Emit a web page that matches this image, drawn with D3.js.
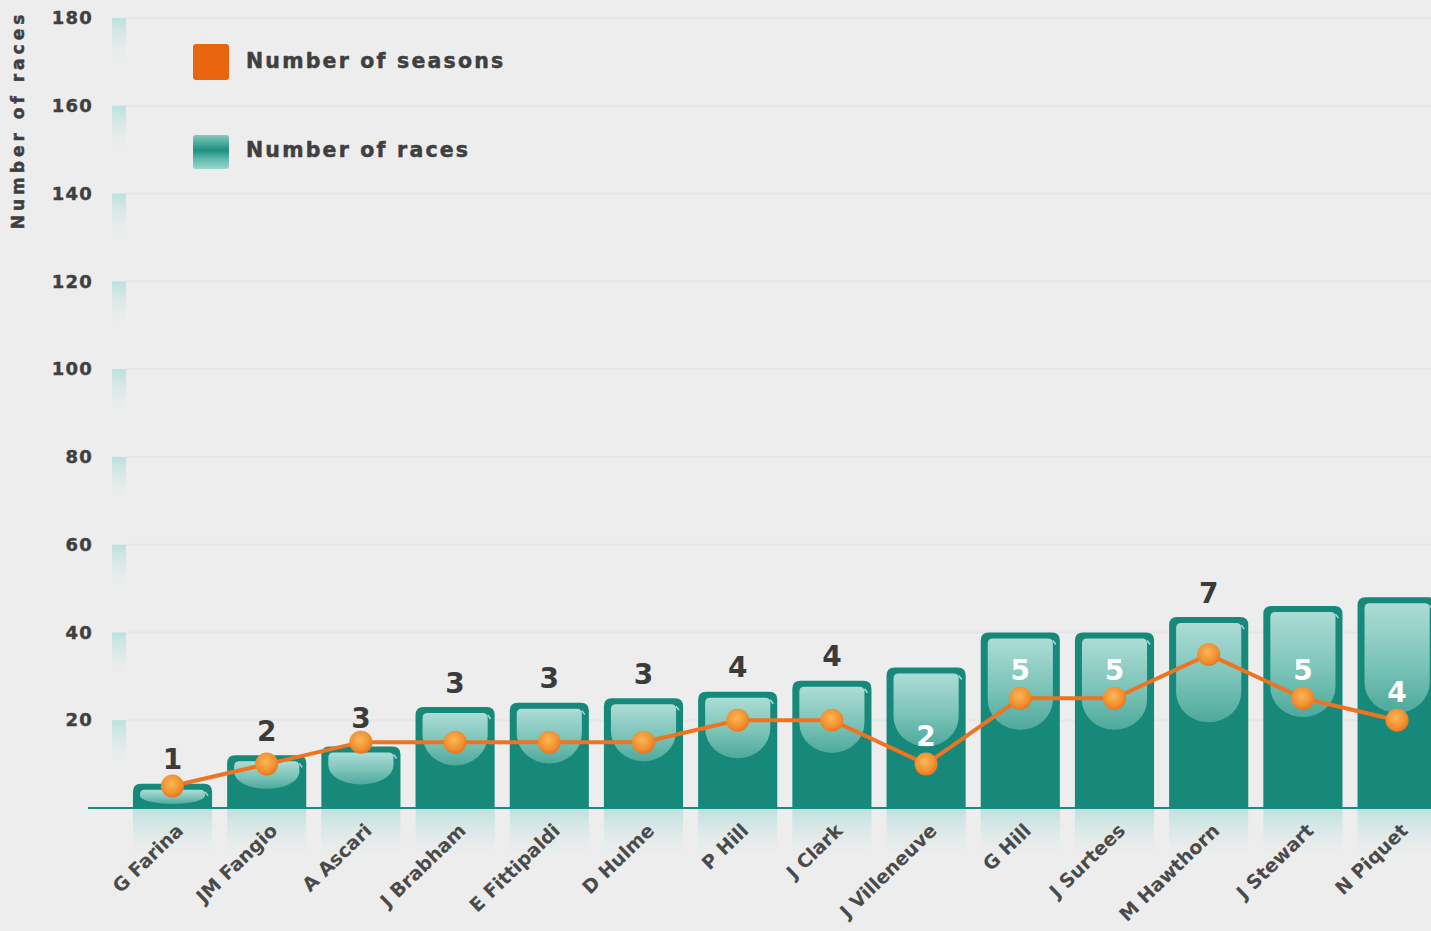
<!DOCTYPE html>
<html>
<head>
<meta charset="utf-8">
<script src="https://cdn.jsdelivr.net/npm/d3@7"></script>
<style>
  html, body { margin: 0; padding: 0; background: #ededed; }
  svg { display: block; }
  text { font-family: "DejaVu Sans", sans-serif; font-weight: bold; }
</style>
</head>
<body>
<div id="chart"></div>
<script>
const drivers = ["G Farina", "JM Fangio", "A Ascari", "J Brabham", "E Fittipaldi", "D Hulme", "P Hill",
  "J Clark", "J Villeneuve", "G Hill", "J Surtees", "M Hawthorn", "J Stewart", "N Piquet"];
const races = [5.5, 12, 14, 23, 24, 25, 26.5, 29, 32, 40, 40, 43.5, 46, 48];
const seasons = [1, 2, 3, 3, 3, 3, 4, 4, 2, 5, 5, 7, 5, 4];
const yTicks = [20, 40, 60, 80, 100, 120, 140, 160, 180];

const width = 1431, height = 931;
const baseY = 808, topY = 18;

const svg = d3.select("#chart").append("svg")
    .attr("width", width)
    .attr("height", height);

svg.append("rect").attr("width", width).attr("height", height).attr("fill", "#ededed");

const defs = svg.append("defs");

const cupGrad = defs.append("linearGradient").attr("id", "cup").attr("x1", 0).attr("y1", 0).attr("x2", 0).attr("y2", 1);
cupGrad.append("stop").attr("offset", "0%").attr("stop-color", "#acdcd5");
cupGrad.append("stop").attr("offset", "55%").attr("stop-color", "#7cc4b9");
cupGrad.append("stop").attr("offset", "100%").attr("stop-color", "#4ea99c");

const reflGrad = defs.append("linearGradient").attr("id", "refl").attr("x1", 0).attr("y1", 0).attr("x2", 0).attr("y2", 1);
reflGrad.append("stop").attr("offset", "0%").attr("stop-color", "#b5e0dc").attr("stop-opacity", 0.9);
reflGrad.append("stop").attr("offset", "100%").attr("stop-color", "#ededed").attr("stop-opacity", 0);

const stripGrad = defs.append("linearGradient").attr("id", "strip").attr("x1", 0).attr("y1", 0).attr("x2", 0).attr("y2", 1);
stripGrad.append("stop").attr("offset", "0%").attr("stop-color", "#b9e2de");
stripGrad.append("stop").attr("offset", "100%").attr("stop-color", "#ededed").attr("stop-opacity", 0);

const dotGrad = defs.append("radialGradient").attr("id", "dot").attr("cx", "45%").attr("cy", "40%").attr("r", "60%");
dotGrad.append("stop").attr("offset", "0%").attr("stop-color", "#fbb758");
dotGrad.append("stop").attr("offset", "70%").attr("stop-color", "#f2902e");
dotGrad.append("stop").attr("offset", "100%").attr("stop-color", "#ea7420");

const legGrad = defs.append("linearGradient").attr("id", "legTeal").attr("x1", 0).attr("y1", 0).attr("x2", 0).attr("y2", 1);
legGrad.append("stop").attr("offset", "0%").attr("stop-color", "#7fcabd");
legGrad.append("stop").attr("offset", "45%").attr("stop-color", "#1f907f");
legGrad.append("stop").attr("offset", "70%").attr("stop-color", "#5fb7aa");
legGrad.append("stop").attr("offset", "100%").attr("stop-color", "#9ad6cc");

const x = d3.scaleBand()
    .domain(drivers)
    .range([125.4, 125.4 + 14 * 94.2])
    .paddingInner(0.16)
    .paddingOuter(0.08);

const y = d3.scaleLinear().domain([0, 180]).range([baseY, topY]);
const ySeasons = d3.scaleLinear().domain([0, 36]).range([baseY, topY]);

// grid lines and axis strips
svg.append("g").selectAll("line")
    .data(yTicks)
    .join("line")
    .attr("x1", 126).attr("x2", width)
    .attr("y1", d => y(d)).attr("y2", d => y(d))
    .attr("stroke", "#e3e7e6").attr("stroke-width", 2);

svg.append("g").selectAll("rect")
    .data(yTicks)
    .join("rect")
    .attr("x", 112).attr("width", 14)
    .attr("y", d => y(d))
    .attr("height", 48)
    .attr("fill", "url(#strip)");

// y axis tick labels
const yAxis = d3.axisLeft(y).tickValues(yTicks).tickSize(0).tickPadding(0);
const gy = svg.append("g").attr("transform", "translate(93,0)").call(yAxis);
gy.select(".domain").remove();
gy.selectAll("text")
    .attr("font-family", "DejaVu Sans")
    .attr("font-weight", "bold")
    .attr("font-size", 18)
    .attr("letter-spacing", 1.2)
    .attr("fill", "#3f3f3f")
    .attr("stroke", "#3f3f3f").attr("stroke-width", 0.4);

svg.append("text")
    .attr("transform", "translate(24,120) rotate(-90)")
    .attr("text-anchor", "middle")
    .attr("font-size", 17)
    .attr("letter-spacing", 4)
    .attr("fill", "#3f3f3f")
    .attr("stroke", "#3f3f3f").attr("stroke-width", 0.5)
    .text("Number of races");

// reflections under bars
svg.append("g").selectAll("rect")
    .data(drivers)
    .join("rect")
    .attr("x", d => x(d))
    .attr("y", baseY)
    .attr("width", x.bandwidth())
    .attr("height", 55)
    .attr("fill", "url(#refl)");

// bars
const bw = x.bandwidth();
const bars = svg.append("g").selectAll("g")
    .data(drivers.map((d, i) => ({ name: d, races: races[i], seasons: seasons[i] })))
    .join("g");

bars.append("path")
    .attr("d", d => {
        const x0 = x(d.name), top = y(d.races), r = 8;
        return `M${x0},${baseY} L${x0},${top + r} Q${x0},${top} ${x0 + r},${top} L${x0 + bw - r},${top} Q${x0 + bw},${top} ${x0 + bw},${top + r} L${x0 + bw},${baseY} Z`;
    })
    .attr("fill", "#17897b");

bars.append("path")
    .attr("d", d => {
        const x0 = x(d.name) + 7, x1 = x(d.name) + bw - 7;
        const top = y(d.races) + 6;
        const h = baseY - y(d.races);
        const depth = Math.max(h * 0.52, Math.min(h - 10, 26));
        const ry = Math.min(depth * 0.6, 30);
        const bot = top + depth;
        const rx = (x1 - x0) / 2;
        return `M${x0},${top + 5} Q${x0},${top} ${x0 + 5},${top} L${x1 - 5},${top} Q${x1},${top} ${x1},${top + 5} L${x1},${bot - ry} A${rx},${ry} 0 0 1 ${x0},${bot - ry} Z`;
    })
    .attr("fill", "url(#cup)");

// small highlight notch on the right of the rim
bars.append("path")
    .attr("d", d => {
        const xr = x(d.name) + bw - 4, top = y(d.races);
        return `M${xr - 3},${top + 8} L${xr},${top + 12}`;
    })
    .attr("stroke", "#cfeeea").attr("stroke-width", 1.5).attr("opacity", 0.8);

// baseline
svg.append("line")
    .attr("x1", 88).attr("x2", width)
    .attr("y1", baseY).attr("y2", baseY)
    .attr("stroke", "#1d8a7f").attr("stroke-width", 2);

// seasons line
const cx = d => x(d.name) + bw / 2;
const line = d3.line().x(cx).y(d => ySeasons(d.seasons));
svg.append("path")
    .datum(bars.data())
    .attr("d", line)
    .attr("fill", "none")
    .attr("stroke", "#ee7421")
    .attr("stroke-width", 4);

svg.append("g").selectAll("circle")
    .data(bars.data())
    .join("circle")
    .attr("cx", cx)
    .attr("cy", d => ySeasons(d.seasons))
    .attr("r", 11.5)
    .attr("fill", "url(#dot)");

// value labels
function labelPos(d) {
    const py = ySeasons(d.seasons), top = y(d.races);
    if (py - top < 50) return { y: Math.min(py, top) - 24, inside: false };
    return { y: py - 28, inside: true };
}
svg.append("g").selectAll("text")
    .data(bars.data())
    .join("text")
    .attr("x", cx)
    .attr("y", d => labelPos(d).y)
    .attr("text-anchor", "middle")
    .attr("dominant-baseline", "central")
    .attr("font-size", 28)
    .attr("fill", d => labelPos(d).inside ? "#ffffff" : "#3b3b3b")
    .text(d => d.seasons);

// x labels
svg.append("g").selectAll("text")
    .data(drivers)
    .join("text")
    .attr("transform", d => `translate(${x(d) + bw / 2 + 12},${832}) rotate(-44)`)
    .attr("text-anchor", "end")
    .attr("font-size", 19)
    .attr("fill", "#4a4a4a")
    .text(d => d);

// legend
const legend = svg.append("g");
legend.append("rect").attr("x", 193).attr("y", 44).attr("width", 36).attr("height", 36).attr("rx", 3)
    .attr("fill", "#ea6510");
legend.append("rect").attr("x", 193).attr("y", 135).attr("width", 36).attr("height", 34).attr("rx", 3)
    .attr("fill", "url(#legTeal)");
legend.append("text").attr("x", 246).attr("y", 68).attr("font-size", 20.5).attr("letter-spacing", 2.2)
    .attr("fill", "#3f3f3f").attr("stroke", "#3f3f3f").attr("stroke-width", 0.5).text("Number of seasons");
legend.append("text").attr("x", 246).attr("y", 157).attr("font-size", 20.5).attr("letter-spacing", 2.2)
    .attr("fill", "#3f3f3f").attr("stroke", "#3f3f3f").attr("stroke-width", 0.5).text("Number of races");
</script>
</body>
</html>
